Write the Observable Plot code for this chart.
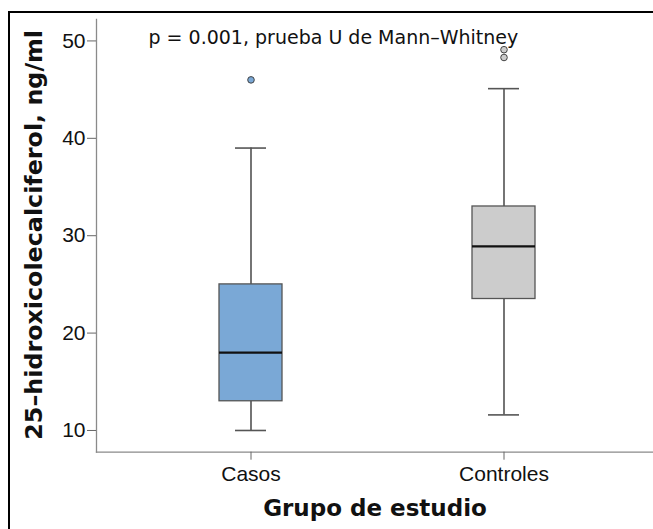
<!DOCTYPE html>
<html>
<head>
<meta charset="utf-8">
<script src="https://cdn.jsdelivr.net/npm/d3@7"></script>
<script src="https://cdn.jsdelivr.net/npm/@observablehq/plot@0.6"></script>
<style>
  html, body { margin: 0; padding: 0; background: #fff; }
  #wrap { position: relative; width: 653px; height: 529px; overflow: hidden; }
  #border { position: absolute; left: 8px; top: 11px; width: 700px; height: 600px;
            border-left: 2.5px solid #000; border-top: 2.5px solid #000; pointer-events: none; }
  #chart { position: absolute; left: 0; top: 0; }
</style>
</head>
<body>
<div id="wrap"><div id="chart"></div><div id="border"></div></div>
<script>
// Data
const groups = ["Casos", "Controles"];
const lowWhisker = [10, 11.6];
const q1 = [13, 23.5];
const median = [18, 28.9];
const q3 = [25, 33];
const highWhisker = [39, 45.1];
const outlierGroup = ["Casos", "Controles", "Controles"];
const outlierValue = [46, 49.1, 48.3];
const fills = ["#7aa8d6", "#cccccc"];
const yTicks = [10, 20, 30, 40, 50];
const yDomain = [7.77, 52.2];
const annotation = "p = 0.001, prueba U de Mann\u2013Whitney";
const yLabel = "25\u2013hidroxicolecalciferol, ng/ml";
const xLabel = "Grupo de estudio";

const boxes = groups.map((g, i) => ({
  group: g, lo: lowWhisker[i], q1: q1[i], med: median[i], q3: q3[i], hi: highWhisker[i], fill: fills[i]
}));
const outliers = outlierGroup.map((g, i) => ({group: g, value: outlierValue[i], fill: fills[groups.indexOf(g)]}));

const chart = Plot.plot({
  width: 653,
  height: 529,
  marginLeft: 96,
  marginRight: 0,
  marginTop: 19,
  marginBottom: 77.3,
  style: {fontFamily: "'Liberation Sans', Arial, sans-serif", fontSize: "21px", background: "transparent"},
  x: {domain: groups, type: "band", paddingInner: 0.751, paddingOuter: 0.476, align: 0.51},
  y: {domain: yDomain},
  marks: [
    Plot.frame({anchor: "left", stroke: "#8a8a8a", strokeWidth: 1.3}),
    Plot.frame({anchor: "bottom", stroke: "#8a8a8a", strokeWidth: 1.3}),
    Plot.axisY({ticks: yTicks, tickSize: 9, tickPadding: 2, tickFormat: d => String(d),
      stroke: "#666", fill: "#111", label: null, fontSize: 21}),
    Plot.axisX({tickSize: 8, tickPadding: 5.4, stroke: "#666", fill: "#111", label: null, fontSize: 21}),
    // whiskers
    Plot.ruleX(boxes, {x: "group", y1: "lo", y2: "q1", stroke: "#3a3a3a", strokeWidth: 1.4}),
    Plot.ruleX(boxes, {x: "group", y1: "q3", y2: "hi", stroke: "#3a3a3a", strokeWidth: 1.4}),
    Plot.tickY(boxes, {x: "group", y: "lo", stroke: "#555", strokeWidth: 1.6, insetLeft: 16, insetRight: 16}),
    Plot.tickY(boxes, {x: "group", y: "hi", stroke: "#555", strokeWidth: 1.6, insetLeft: 16, insetRight: 16}),
    // boxes
    Plot.barY(boxes, {x: "group", y1: "q1", y2: "q3", fill: d => d.fill, stroke: "#555", strokeWidth: 1.3}),
    Plot.tickY(boxes, {x: "group", y: "med", stroke: "#111", strokeWidth: 2.2}),
    // outliers
    Plot.dot(outliers, {x: "group", y: "value", r: 3.3, fill: d => d.fill, stroke: "#444", strokeWidth: 1}),
    // annotation
    Plot.text([annotation], {frameAnchor: "top-left", textAnchor: "start", dx: 52, dy: 18,
      fontFamily: "'DejaVu Sans', sans-serif", fontSize: 19, fill: "#111", lineAnchor: "middle"}),
    // axis titles
    Plot.text([yLabel], {frameAnchor: "left", rotate: -90, dx: -62, dy: -1, textAnchor: "middle", lineAnchor: "middle",
      fontFamily: "'DejaVu Sans', sans-serif", fontWeight: "bold", fontSize: 23.8, fill: "#111"}),
    Plot.text([xLabel], {frameAnchor: "bottom", dy: 56, textAnchor: "middle", lineAnchor: "middle",
      fontFamily: "'DejaVu Sans', sans-serif", fontWeight: "bold", fontSize: 23, fill: "#111"})
  ]
});
document.getElementById("chart").appendChild(chart);
</script>
</body>
</html>
